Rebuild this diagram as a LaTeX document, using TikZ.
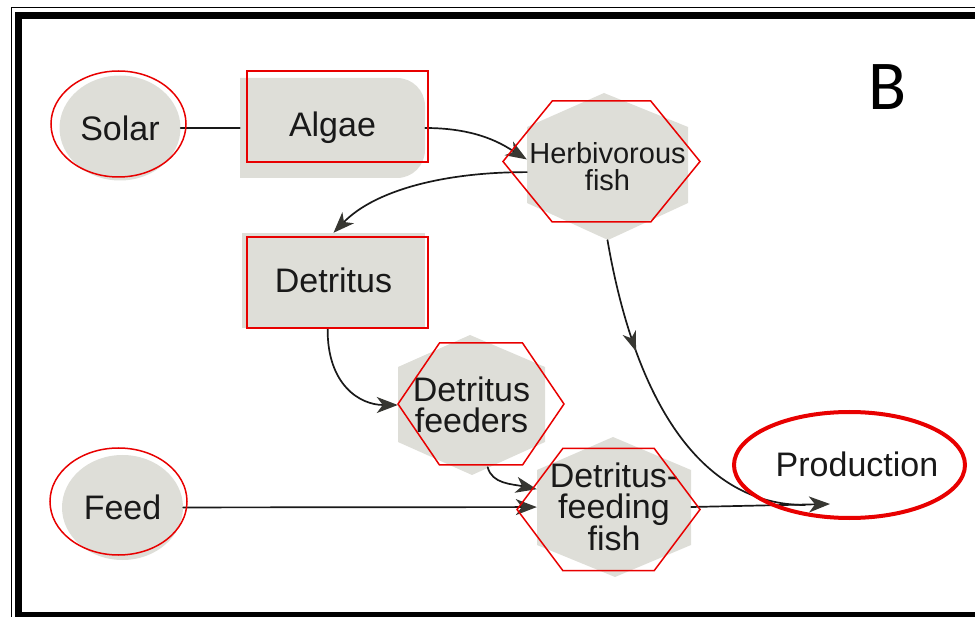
\documentclass[tikz,border=0pt]{standalone}
\usepackage{fontspec}
\setmainfont{Liberation Sans}
\newfontfamily\tagfont{Carlito}
\usetikzlibrary{shapes.geometric,arrows.meta,decorations.markings}
\definecolor{blobgray}{RGB}{222,222,216}
\definecolor{hired}{RGB}{232,0,0}
\definecolor{ink}{RGB}{25,25,25}
\definecolor{tipgray}{RGB}{55,55,50}
\begin{document}
\begin{tikzpicture}[x=1pt,y=-1pt,
  blob/.style={fill=blobgray,inner sep=0pt},
  txt/.style={text=ink,align=center,inner sep=0pt,font=\fontsize{34}{31}\selectfont},
  hl/.style={draw=hired,line width=1.5pt},
  wire/.style={draw=ink,line width=1.7pt,line cap=round},
  flow/.style={wire,-{Stealth[length=21pt,width=16pt,inset=6pt,color=tipgray]}}]
  \useasboundingbox (0,0) rectangle (975,617);
  \clip (0,0) rectangle (975,617);
  \draw[line width=1.5pt] (11.5,7.5) rectangle (1000,640);
  \draw[line width=7pt] (18.5,15.5) rectangle (1000,615.5);
  \fill[blobgray] (240,78) -- (397,78) arc[start angle=-90,end angle=0,radius=28] -- (425,150) arc[start angle=0,end angle=90,radius=28] -- (240,178) -- cycle;
  \fill[blobgray] (604,93) -- (688,127) -- (688,203) -- (608,240) -- (527,203) -- (527,127) -- cycle;
  \fill[blobgray] (470,335) -- (545,367) -- (545,442) -- (472,475) -- (398,442) -- (398,367) -- cycle;
  \fill[blobgray] (613,437) -- (691,470) -- (691,545) -- (615,577) -- (537,545) -- (537,470) -- cycle;
  \node[blob,ellipse,txt,minimum width=121pt,minimum height=105pt] (solar) at (120,128) {Solar};
  \node[txt,minimum width=185pt,minimum height=100pt] (algae) at (332.5,128) {Algae};
  \node[blob,txt,minimum width=183pt,minimum height=95pt] (detritus) at (333.5,280.5) {Detritus};
  \node[txt,font=\fontsize{29}{27}\selectfont,minimum width=161pt,minimum height=147pt] (herb) at (607.5,166.5) {Herbivorous\\fish};
  \node[txt,minimum width=147pt,minimum height=140pt] (feeders) at (471.5,405) {Detritus\\feeders};
  \node[txt,minimum width=154pt,minimum height=140pt] (dfish) at (614,507) {Detritus-\\feeding\\fish};
  \node[blob,ellipse,txt,minimum width=121pt,minimum height=105pt] (feed) at (122.5,507.5) {Feed};
  \node[txt] (prod) at (857,464) {Production};
  \node[font=\tagfont\fontsize{70}{70}\selectfont] (tag) at (887.5,87) {B};
  \coordinate (prodin) at (830,504);
  \coordinate (merge) at (805,505);
  \draw[wire] (solar) -- (algae);
  \draw[flow] (algae.east) .. controls (480,128) and (505,146) .. (herb.175);
  \draw[flow] (herb.184) .. controls (445,172) and (375,190) .. (detritus.north);
  \draw[flow] (detritus.263) .. controls (327,385) and (360,405) .. (feeders.west);
  \draw[flow] ([yshift=8pt]feeders.-77) .. controls (492,484) and (512,484) .. (dfish.167);
  \draw[flow] (feed) -- (dfish);
  \draw[flow] (dfish.east) -- (prodin);
  \draw[wire,postaction={decorate},decoration={markings,mark=at position 0.32 with {\arrow{Stealth[length=20pt,width=14pt,inset=6pt,color=tipgray]}}}] (herb.south) .. controls (635,400) and (700,505) .. (merge);
  \draw[hl] (118.5,124) ellipse [x radius=67.5,y radius=53];
  \draw[hl] (118.5,501.5) ellipse [x radius=68.5,y radius=53.5];
  \draw[hl,line width=4pt] (849.5,465) ellipse [x radius=115.5,y radius=53];
  \draw[hl] (247,71) rectangle (428,162);
  \draw[hl] (247,237) rectangle (428,328);
  \foreach \cx/\cy/\hw/\hh in {601.5/161.5/98.5/60.5,481/404/83/61,608.5/509.5/91.5/61}
    \draw[hl] (\cx-\hw,\cy) -- (\cx-\hw/2,\cy-\hh) -- (\cx+\hw/2,\cy-\hh) -- (\cx+\hw,\cy) -- (\cx+\hw/2,\cy+\hh) -- (\cx-\hw/2,\cy+\hh) -- cycle;
\end{tikzpicture}
\end{document}
